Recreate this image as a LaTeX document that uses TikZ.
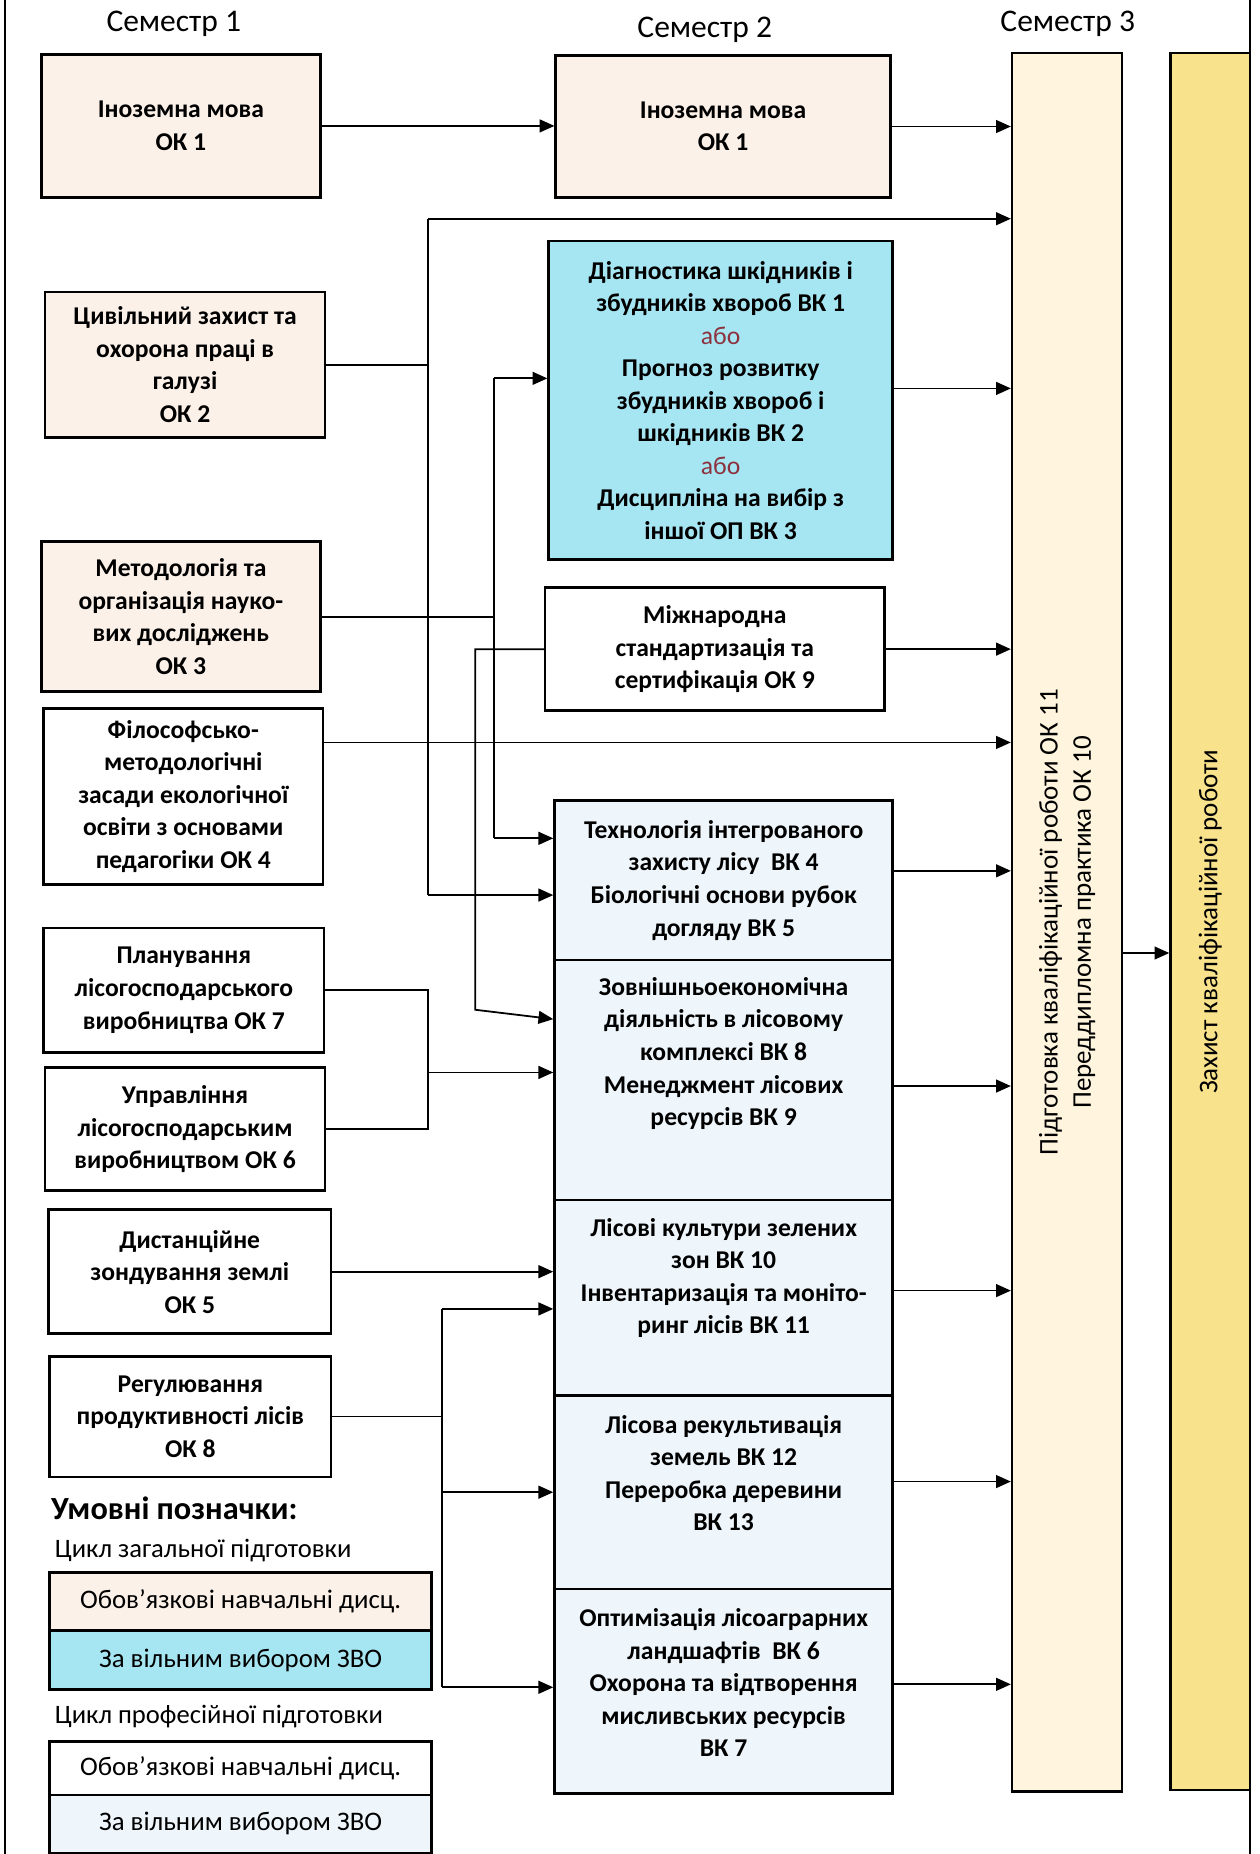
\documentclass[tikz,border=0pt]{standalone}
\usepackage{fontspec}
\setmainfont{Carlito}
\usetikzlibrary{arrows.meta}
\definecolor{peachc}{RGB}{251,241,233}
\definecolor{cyanc}{RGB}{166,229,242}
\definecolor{lbluec}{RGB}{238,246,251}
\definecolor{creamc}{RGB}{255,245,222}
\definecolor{yellowc}{RGB}{248,226,140}
\definecolor{aboc}{RGB}{140,50,62}
\newcommand\bxf{\fontsize{13}{16.5}\selectfont\bfseries}
\newcommand\abo{{\mdseries\color{aboc}або}}
\begin{document}
\begin{tikzpicture}[x=0.6pt,y=-0.6pt,
  sz/.style 2 args={minimum width=#1*0.6pt, minimum height=#2*0.6pt},
  box/.style={draw=black, line width=1.3pt, align=center, font=\bxf, inner sep=1pt},
  txt/.style={align=center, font=\bxf, inner sep=0pt},
  peach/.style={fill=peachc},
  cyanbox/.style={fill=cyanc},
  lblue/.style={fill=lbluec},
  ln/.style={line width=0.9pt},
  arr/.style={line width=0.9pt, -{Triangle[length=7.5pt,width=6.5pt]}},
  head/.style={font=\fontsize{16}{19}\selectfont, inner sep=0pt},
  legtxt/.style={font=\fontsize{13.5}{16}\selectfont, inner sep=0pt, anchor=west},
  legbox/.style={draw=black, line width=1.3pt, font=\fontsize{13.6}{16}\selectfont, sz={323}{#1}, inner sep=0pt}
]
\path[use as bounding box] (0,0) rectangle (1065,1568);
% frame lines
\draw[line width=0.9pt] (4,0) -- (4,1568);
\draw[line width=0.9pt] (1057,0) -- (1057,1568);

% headers
\node[head] (s1) at (147,20) {Семестр 1};
\node[head] (s2) at (596,25) {Семестр 2};
\node[head] (s3) at (903,20) {Семестр 3};

% column 1
\node[box,peach,sz={236}{121}] (a1) at (153,106.5) {Іноземна мова\\ОК 1};
\node[box,peach,sz={237}{123}] (a2) at (156.5,308.5) {Цивільний захист та\\охорона праці в\\галузі\\ОК 2};
\node[box,peach,sz={236}{127}] (a3) at (153,521.5) {Методологія та\\організація науко-\\вих досліджень\\ОК 3};
\node[box,fill=white,sz={236}{149}] (a4) at (155,673.5) {Філософсько-\\методологічні\\засади екологічної\\освіти з основами\\педагогіки ОК 4};
\node[box,fill=white,sz={237}{105}] (a5) at (155.5,837.5) {Планування\\лісогосподарського\\виробництва ОК 7};
\node[box,fill=white,sz={237}{104}] (a6) at (156.5,955) {Управління\\лісогосподарським\\виробництвом ОК 6};
\node[box,fill=white,sz={239}{105}] (a7) at (160.5,1075.5) {Дистанційне\\зондування землі\\ОК 5};
\node[box,fill=white,sz={238}{102}] (a8) at (161,1198) {Регулювання\\продуктивності лісів\\ОК 8};

% column 2
\node[box,peach,sz={283}{120}] (b1) at (611.5,107) {Іноземна мова\\ОК 1};
\node[box,cyanbox,sz={291}{269}] (b2) at (609.5,338.5) {Діагностика шкідників і\\збудників хвороб ВК 1\\\abo\\Прогноз розвитку\\збудників хвороб і\\шкідників ВК 2\\\abo\\Дисципліна на вибір з\\іншої ОП ВК 3};
\node[box,fill=white,sz={287}{104}] (b3) at (604.5,549) {Міжнародна\\стандартизація та\\сертифікація ОК 9};
\node[box,lblue,sz={286}{135}] (b4) at (612,744.5) {Технологія інтегрованого\\захисту лісу~ ВК 4\\Біологічні основи рубок\\догляду ВК 5};
\node[box,lblue,sz={286}{203}] (b5) at (612,913.5) {};
\node[txt] (b5t) at (612,891) {Зовнішньоекономічна\\діяльність в лісовому\\комплексі ВК 8\\Менеджмент лісових\\ресурсів ВК 9};
\node[box,lblue,sz={286}{165}] (b6) at (612,1097.5) {};
\node[txt] (b6t) at (612,1081) {Лісові культури зелених\\зон ВК 10\\Інвентаризація та моніто-\\ринг лісів ВК 11};
\node[box,lblue,sz={286}{164}] (b7) at (612,1262) {};
\node[txt] (b7t) at (612,1246) {Лісова рекультивація\\земель ВК 12\\Переробка деревини\\ВК 13};
\node[box,lblue,sz={286}{173}] (b8) at (612,1430.5) {};
\node[txt] (b8t) at (612,1423) {Оптимізація лісоаграрних\\ландшафтів~ ВК 6\\Охорона та відтворення\\мисливських ресурсів\\ВК 7};

% column 3
\node[draw=black,line width=1.3pt,fill=creamc,sz={93}{1470}] (c1) at (902.5,780) {};
\node[rotate=90,align=center,font=\fontsize{13.7}{16.8}\selectfont,inner sep=0pt] (c1t) at (c1.center) {Підготовка кваліфікаційної роботи ОК 11\\Переддипломна практика ОК 10};
\node[draw=black,line width=1.3pt,fill=yellowc,sz={67}{1469}] (c2) at (1023.5,779.5) {};
\node[rotate=90,font=\fontsize{13.7}{16.8}\selectfont,inner sep=0pt] (c2t) at (c2.center) {Захист кваліфікаційної роботи};

% legend
\node[legtxt,font=\fontsize{16.4}{19}\selectfont\bfseries] (lg) at (43,1276) {Умовні позначки:};
\node[legtxt] (lg1) at (46,1311) {Цикл загальної підготовки};
\node[legbox={49},fill=peachc] (l1) at (203.5,1354.5) {Обов’язкові навчальні дисц.};
\node[legbox={50},fill=cyanc] (l2) at (203.5,1404) {За вільним вибором ЗВО};
\node[legtxt] (lg2) at (46,1452) {Цикл професійної підготовки};
\node[legbox={45},fill=white] (l3) at (203.5,1495.5) {Обов’язкові навчальні дисц.};
\node[legbox={49},fill=lbluec] (l4) at (203.5,1542.5) {За вільним вибором ЗВО};

% connectors: column 1 -> column 2
\draw[arr] (a1.east) -- (a1.east -| b1.west);

\coordinate (j1) at (362,185);
\coordinate (j2) at (362,757);
\draw[ln] (a2.east) -- (a2.east -| j1);
\draw[ln] (j1) -- (j2);
\draw[arr] (j1) -- (j1 -| c1.west);
\draw[arr] (j2) -- (j2 -| b4.west);

\coordinate (k1) at (418,320);
\coordinate (k2) at (418,709);
\draw[ln] (a3.east) -- (a3.east -| k1);
\draw[ln] (k1) -- (k2);
\draw[arr] (k1) -- (k1 -| b2.west);
\draw[arr] (k2) -- (k2 -| b4.west);

\coordinate (m2) at (402,854);
\path (b5.north west) ++(0,51) coordinate (m3);
\draw[arr] (b3.west) -- (b3.west -| m2) -- (m2) -- (m3);

\path (a4.north east) ++(0,30) coordinate (p4);
\draw[arr] (p4) -- (p4 -| c1.west);

\coordinate (n1) at (362,907);
\draw[ln] (a5.east) -| (n1);
\draw[ln] (a6.east) -| (n1);
\draw[arr] (n1) -- (n1 -| b5.west);

\draw[arr] (a7.east) -- (a7.east -| b6.west);

\coordinate (q1) at (374,1107);
\coordinate (q2) at (374,1262);
\coordinate (q3) at (374,1427);
\draw[ln] (a8.east) -- (a8.east -| q1);
\draw[ln] (q1) -- (q3);
\draw[arr] (q1) -- (q1 -| b6.west);
\draw[arr] (q2) -- (q2 -| b7.west);
\draw[arr] (q3) -- (q3 -| b8.west);

% column 2 -> column 3
\draw[arr] (b1.east) -- (b1.east -| c1.west);
\path (b2.east) ++(0,-10) coordinate (r2);
\draw[arr] (r2) -- (r2 -| c1.west);
\draw[arr] (b3.east) -- (b3.east -| c1.west);
\path (b4.east) ++(0,-8) coordinate (r4);
\draw[arr] (r4) -- (r4 -| c1.west);
\path (b5.east) ++(0,5) coordinate (r5);
\draw[arr] (r5) -- (r5 -| c1.west);
\path (b6.east) ++(0,-6) coordinate (r6);
\draw[arr] (r6) -- (r6 -| c1.west);
\path (b7.east) ++(0,-9) coordinate (r7);
\draw[arr] (r7) -- (r7 -| c1.west);
\path (b8.east) ++(0,-6) coordinate (r8);
\draw[arr] (r8) -- (r8 -| c1.west);
\path (c1.east) ++(0,26) coordinate (r9);
\draw[arr] (r9) -- (r9 -| c2.west);
\end{tikzpicture}
\end{document}
